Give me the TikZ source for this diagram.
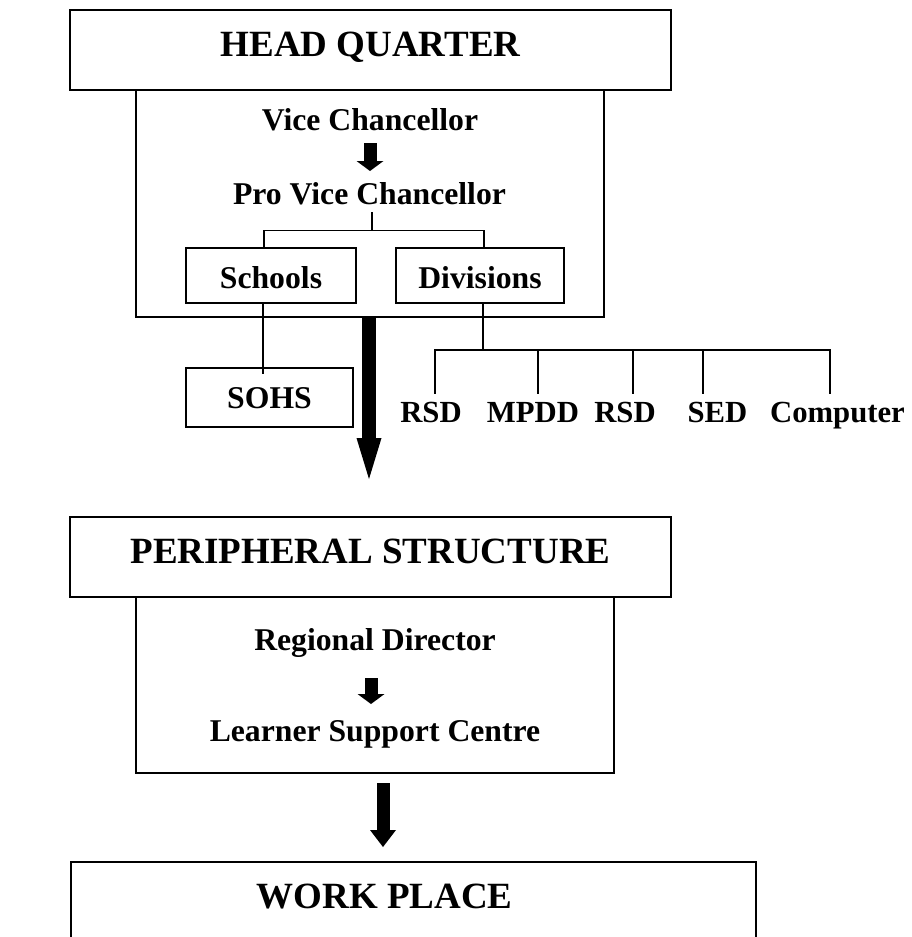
\documentclass[tikz,border=0pt]{standalone}
\usepackage{fontspec}
\setmainfont{Liberation Serif}
\usetikzlibrary{arrows.meta}
\begin{document}
\begin{tikzpicture}[x=1pt,y=-1pt,
  box/.style={draw, line width=1.8pt, inner sep=0pt, rectangle},
  conn/.style={line width=1.4pt},
  titletext/.style={font=\fontsize{37}{44}\selectfont\bfseries, inner sep=0pt, anchor=base},
  bodytext/.style={font=\fontsize{31.7}{38}\selectfont\bfseries, inner sep=0pt, anchor=base},
  labtext/.style={font=\fontsize{30.7}{37}\selectfont\bfseries, inner sep=0pt, anchor=base, text height=28pt},
  bigarrow/.style={line width=14pt, -{Triangle[width=25pt,length=41pt,line width=0pt]}},
  bigarrowb/.style={line width=13pt, -{Triangle[width=26pt,length=17pt,line width=0pt]}},
  smallarrow/.style={line width=13pt, -{Triangle[width=27pt,length=10pt,line width=0pt]}}
]
\useasboundingbox (0,0) rectangle (911,937);
\clip (0,0) rectangle (911,937);

% Head quarter
\node[box, titletext, minimum width=601pt, text height=46pt, text depth=34pt] (hq) at (370.5,56) {HEAD QUARTER};
\node[box, minimum width=468pt, minimum height=227pt] (hqin) at (370,203.5) {};
\node[bodytext] (vc) at (370,130) {Vice Chancellor};
\node[bodytext, text depth=8pt] (pvc) at (369.5,204) {Pro Vice Chancellor};
\node[box, bodytext, minimum width=170pt, text height=40pt, text depth=15pt] (schools) at (271,288) {Schools};
\node[box, bodytext, minimum width=168pt, text height=40pt, text depth=15pt] (divisions) at (480,288) {Divisions};
\node[box, bodytext, minimum width=167pt, text height=40pt, text depth=19pt] (sohs) at (269.5,408) {SOHS};

\node[labtext] (l1) at (431,422) {RSD};
\node[labtext] (l2) at (533,422) {MPDD};
\node[labtext] (l3) at (625,422) {RSD};
\node[labtext] (l4) at (717.5,422) {SED};
\node[labtext] (l5) at (837.5,422) {Computer};

% Peripheral structure
\node[box, titletext, minimum width=601pt, text height=46pt, text depth=34pt] (ps) at (370.5,563) {PERIPHERAL STRUCTURE};
\node[box, minimum width=478pt, minimum height=176pt] (psin) at (375,685) {};
\node[bodytext] (rd) at (375,650) {Regional Director};
\node[bodytext] (lsc) at (375,741) {Learner Support Centre};

% Work place
\node[box, minimum width=685pt, minimum height=150pt, anchor=north west] (wpbox) at (70,861) {};
\node[titletext] (wp) at (384.5,908) {WORK PLACE};

% connectors
\draw[conn] ([xshift=2.5pt]pvc.south) -- ++(0,18) coordinate (pvcj);
\draw[conn] ([xshift=-7pt]schools.north) |- (pvcj) -| ([xshift=4pt]divisions.north);
\draw[conn] ([xshift=-8pt]schools.south) -- ++(0,70);
\draw[conn] ([xshift=3pt]divisions.south) -- ++(0,47) coordinate (divj);
\coordinate (j1) at (435,350);
\coordinate (j2) at (538,350);
\coordinate (j3) at (633,350);
\coordinate (j4) at (703,350);
\coordinate (j5) at (830,350);
\draw[conn, line cap=rect] (j1) -- (j5);
\foreach \j/\l in {j1/l1, j2/l2, j3/l3, j4/l4, j5/l5}
  \draw[conn] (\j) -- (\j |- \l.north);

% block arrows
\coordinate (s1a) at (370,143);
\coordinate (s1b) at (370,171);
\draw[smallarrow] (s1a) -- (s1b);
\coordinate (s2a) at (371,678);
\coordinate (s2b) at (371,704);
\draw[smallarrow] (s2a) -- (s2b);
\coordinate (t1) at (369,479);
\draw[bigarrow] ([xshift=-1pt]hqin.south) -- (t1);
\coordinate (b2a) at (383,783);
\coordinate (b2b) at (383,847);
\draw[bigarrowb] (b2a) -- (b2b);
\end{tikzpicture}
\end{document}
